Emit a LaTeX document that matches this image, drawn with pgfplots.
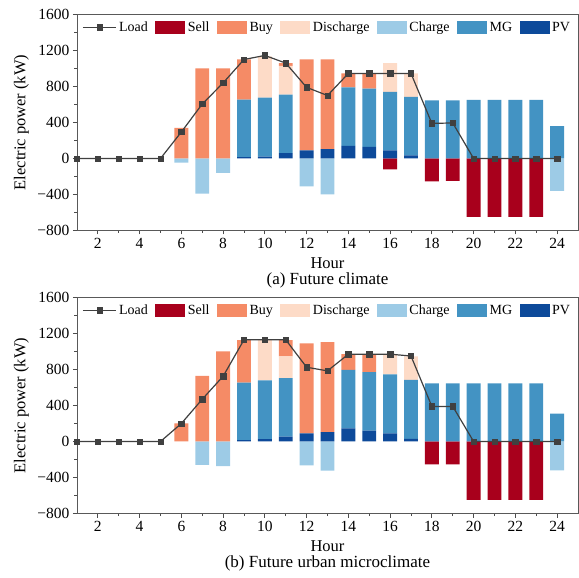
\documentclass[border=0pt]{standalone}
\usepackage{pgfplots}
\pgfplotsset{compat=1.18}
\usepackage{pgfplotstable}
\usepackage{fontspec}
\setmainfont{Liberation Serif}

\definecolor{sellc}{HTML}{A8001C}
\definecolor{buyc}{HTML}{F58B66}
\definecolor{disc}{HTML}{FDDBC7}
\definecolor{chc}{HTML}{9DCBE6}
\definecolor{mgc}{HTML}{4393C3}
\definecolor{pvc}{HTML}{0D4A9A}
\definecolor{loadc}{HTML}{404040}

\pgfplotstableread{
h PV MG Dis Buy Ch Sell Load
1 0 0 0 0 0 0 0
2 0 0 0 0 0 0 0
3 0 0 0 0 0 0 0
4 0 0 0 0 0 0 0
5 0 0 0 0 0 0 0
6 0 0 0 340 -45 0 295
7 0 0 0 1000 -390 0 605
8 0 0 0 1000 -160 0 840
9 15 640 0 445 0 0 1100
10 20 655 460 0 0 0 1145
11 60 650 320 30 0 0 1060
12 90 0 0 1010 -310 0 790
13 105 0 0 995 -400 0 700
14 140 650 0 155 0 0 945
15 130 645 0 170 0 0 945
16 90 650 320 0 0 -120 945
17 35 650 260 0 0 0 945
18 0 645 0 0 0 -255 390
19 0 645 0 0 0 -250 395
20 0 650 0 0 0 -650 0
21 0 650 0 0 0 -650 0
22 0 650 0 0 0 -650 0
23 0 650 0 0 0 -650 0
24 0 360 0 0 -360 0 0
}\dataA

\pgfplotstableread{
h PV MG Dis Buy Ch Sell Load
1 0 0 0 0 0 0 0
2 0 0 0 0 0 0 0
3 0 0 0 0 0 0 0
4 0 0 0 0 0 0 0
5 0 0 0 0 0 0 0
6 0 0 0 200 0 0 200
7 0 0 0 730 -260 0 470
8 0 0 0 1000 -275 0 725
9 15 640 0 470 0 0 1130
10 25 655 450 0 0 0 1130
11 55 650 240 180 0 0 1130
12 90 0 0 1000 -265 0 825
13 105 0 0 1000 -325 0 785
14 145 650 0 175 0 0 970
15 120 650 0 200 0 0 970
16 90 655 225 0 0 0 970
17 30 655 260 0 0 0 950
18 0 645 0 0 0 -255 390
19 0 645 0 0 0 -255 390
20 0 645 0 0 0 -650 0
21 0 645 0 0 0 -650 0
22 0 645 0 0 0 -650 0
23 0 645 0 0 0 -650 0
24 0 310 0 0 -320 0 0
}\dataB

\pgfplotsset{
  base/.style={scale only axis, width=501pt, height=216pt,
    xmin=1, xmax=25, ymin=-800, ymax=1600, clip=false},
  barsax/.style={base, hide axis, ybar stacked, bar width=0.66},
  mainax/.style={base,
    axis line style={draw=black!65, line width=0.8pt},
    tick style={draw=black!70, line width=0.8pt},
    tick align=outside, tick pos=left,
    xtick={2,4,...,24}, minor x tick num=1,
    ytick={-800,-400,...,1600}, minor y tick num=1,
    yticklabels={−800,−400,0,400,800,1200,1600},
    major tick length=4pt, minor tick length=2.5pt,
    /pgf/number format/assume math mode=true,
    ticklabel style={font=\fontsize{15.5}{17}\selectfont},
    label style={font=\fontsize{16.5}{18}\selectfont},
    xlabel={Hour},
    xlabel style={at={(axis description cs:0.5,-0.153)}, anchor=center, inner sep=0pt},
    ylabel={Electric power (kW)},
    ylabel style={at={(axis description cs:-0.111,0.5)}, anchor=center},
    legend style={at={(0.5,1)}, anchor=north, yshift=-4pt, draw=none, fill=none,
      legend columns=7, font=\fontsize{14}{16}\selectfont,
      /tikz/every even column/.append style={column sep=5pt},
      nodes={inner xsep=2.5pt, inner ysep=1pt}},
  },
  barleg/.style={legend image code/.code={\fill[##1] (0pt,-6.5pt) rectangle (30pt,6.5pt);}},
  loadleg/.style={legend image code/.code={\draw[##1, mark repeat=2, mark phase=2] plot coordinates {(0pt,0pt) (16.5pt,0pt) (33pt,0pt)};}},
  loadst/.style={draw=loadc, line width=1.2pt, mark=square*, mark size=2.7pt, mark options={fill=loadc, draw=loadc, line width=0.5pt}},
}

\begin{document}
\begin{tikzpicture}
% ---------- (a) ----------
\begin{axis}[barsax]
\addplot[fill=chc, draw=none] table[x=h, y=Ch] {\dataA};
\addplot[fill=sellc, draw=none] table[x=h, y=Sell] {\dataA};
\end{axis}
\begin{axis}[barsax]
\addplot[fill=pvc, draw=none] table[x=h, y=PV] {\dataA};
\addplot[fill=mgc, draw=none] table[x=h, y=MG] {\dataA};
\addplot[fill=disc, draw=none] table[x=h, y=Dis] {\dataA};
\addplot[fill=buyc, draw=none] table[x=h, y=Buy] {\dataA};
\end{axis}
\begin{axis}[mainax]
\addlegendimage{loadst, loadleg}\addlegendentry{Load}
\addlegendimage{fill=sellc, draw=none, barleg}\addlegendentry{Sell}
\addlegendimage{fill=buyc, draw=none, barleg}\addlegendentry{Buy}
\addlegendimage{fill=disc, draw=none, barleg}\addlegendentry{Discharge}
\addlegendimage{fill=chc, draw=none, barleg}\addlegendentry{Charge}
\addlegendimage{fill=mgc, draw=none, barleg}\addlegendentry{MG}
\addlegendimage{fill=pvc, draw=none, barleg}\addlegendentry{PV}
\addplot[loadst, forget plot] table[x=h, y=Load] {\dataA};
\node[font=\fontsize{17}{19}\selectfont, inner sep=0pt] at (axis description cs:0.5,-0.23) {(a) Future climate};
\end{axis}
% ---------- (b) ----------
\begin{axis}[barsax, at={(0pt,-283pt)}]
\addplot[fill=chc, draw=none] table[x=h, y=Ch] {\dataB};
\addplot[fill=sellc, draw=none] table[x=h, y=Sell] {\dataB};
\end{axis}
\begin{axis}[barsax, at={(0pt,-283pt)}]
\addplot[fill=pvc, draw=none] table[x=h, y=PV] {\dataB};
\addplot[fill=mgc, draw=none] table[x=h, y=MG] {\dataB};
\addplot[fill=disc, draw=none] table[x=h, y=Dis] {\dataB};
\addplot[fill=buyc, draw=none] table[x=h, y=Buy] {\dataB};
\end{axis}
\begin{axis}[mainax, at={(0pt,-283pt)}]
\addlegendimage{loadst, loadleg}\addlegendentry{Load}
\addlegendimage{fill=sellc, draw=none, barleg}\addlegendentry{Sell}
\addlegendimage{fill=buyc, draw=none, barleg}\addlegendentry{Buy}
\addlegendimage{fill=disc, draw=none, barleg}\addlegendentry{Discharge}
\addlegendimage{fill=chc, draw=none, barleg}\addlegendentry{Charge}
\addlegendimage{fill=mgc, draw=none, barleg}\addlegendentry{MG}
\addlegendimage{fill=pvc, draw=none, barleg}\addlegendentry{PV}
\addplot[loadst, forget plot] table[x=h, y=Load] {\dataB};
\node[font=\fontsize{17}{19}\selectfont, inner sep=0pt] at (axis description cs:0.5,-0.23) {(b) Future urban microclimate};
\end{axis}
\pgfresetboundingbox
\path (-77pt,-347.5pt) rectangle (502pt,230.5pt);
\end{tikzpicture}
\end{document}
